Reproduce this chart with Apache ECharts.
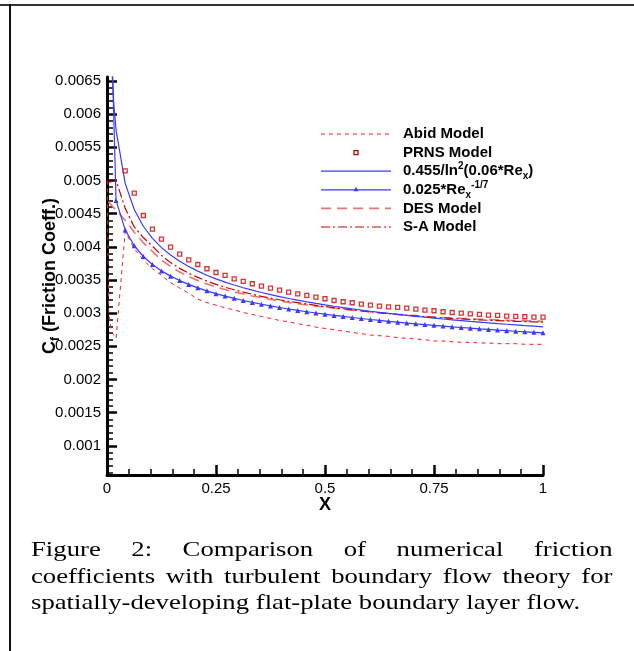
<!DOCTYPE html>
<html lang="en">
<head>
<meta charset="UTF-8">
<title>Friction coefficient comparison</title>
<script src="https://cdn.jsdelivr.net/npm/echarts@6/dist/echarts.min.js"></script>
<style>
  body { margin: 0; background: #fff; }
  #page { position: relative; width: 634px; height: 651px; overflow: hidden; background: #fff; }
  #chart { position: absolute; left: 0; top: 0; width: 634px; height: 651px; }
  .rule-top { position: absolute; left: 0; top: 4px; width: 634px; height: 2px; background: #333; }
  .rule-left { position: absolute; left: 9px; top: 4px; width: 2px; height: 647px; background: #111; }
  #caption {
    position: absolute; left: 31px; top: 536px; width: 479px;
    font-family: 'Liberation Serif', 'Times New Roman', serif;
    font-size: 22px; line-height: 26.5px; text-align: justify; color: #000;
    transform: scaleX(1.214); transform-origin: 0 0;
  }
</style>
</head>
<body>
<div id="page">
  <div id="chart"></div>
  <div class="rule-top"></div>
  <div class="rule-left"></div>
  <div id="caption">Figure 2: Comparison of numerical friction coefficients with turbulent boundary flow theory for spatially-developing flat-plate boundary layer flow.</div>
</div>
<script>
    // x stations (same for every data set)
    const xGrid = [0.0208, 0.0417, 0.0625, 0.0833, 0.1042, 0.125, 0.1458, 0.1667, 0.1875, 0.2083,
        0.2292, 0.25, 0.2708, 0.2917, 0.3125, 0.3333, 0.3542, 0.375, 0.3958, 0.4167,
        0.4375, 0.4583, 0.4792, 0.5, 0.5208, 0.5417, 0.5625, 0.5833, 0.6042, 0.625,
        0.6458, 0.6667, 0.6875, 0.7083, 0.7292, 0.75, 0.7708, 0.7917, 0.8125, 0.8333,
        0.8542, 0.875, 0.8958, 0.9167, 0.9375, 0.9583, 0.9792, 1.0];

    // Abid model (with the dip near the leading edge)
    const abidLeadX = [0.0005, 0.004, 0.01];
    const abidLeadY = [0.00500, 0.00300, 0.00272];
    const abidCf = [0.00262, 0.00423, 0.00397, 0.00380, 0.00367, 0.00357, 0.00346, 0.00338, 0.00330, 0.00321,
        0.00316, 0.00312, 0.00308, 0.00305, 0.00301, 0.00298, 0.00295, 0.00292, 0.00289, 0.00287,
        0.00284, 0.00282, 0.00279, 0.00277, 0.00275, 0.00273, 0.00271, 0.00269, 0.00267, 0.00266,
        0.00265, 0.00263, 0.00262, 0.00261, 0.00260, 0.00258, 0.00258, 0.00257, 0.00256, 0.00256,
        0.00255, 0.00255, 0.00254, 0.00254, 0.00254, 0.00253, 0.00253, 0.00253];

    // PRNS model, starts at the 2nd station
    const prnsCf = [0.005145, 0.004809, 0.004472, 0.004267, 0.004116, 0.003995, 0.003890, 0.003804, 0.003733,
        0.003669, 0.003613, 0.003568, 0.003518, 0.003478, 0.003443, 0.003408, 0.003378, 0.003348, 0.003318,
        0.003292, 0.003267, 0.003242, 0.003217, 0.003191, 0.003172, 0.003157, 0.003137, 0.003122, 0.003106,
        0.003095, 0.003086, 0.003077, 0.003062, 0.003047, 0.003036, 0.003021, 0.003010, 0.003000, 0.002990,
        0.002980, 0.002970, 0.002965, 0.002956, 0.002950, 0.002946, 0.002940, 0.002940];

    // 0.455/ln^2(0.06 Re_x)
    const lnLeadX = [0.0104, 0.0156];
    const lnLeadY = [0.00677, 0.00615];
    const lnCf = [0.005759, 0.004956, 0.004562, 0.004310, 0.004128, 0.003988, 0.003876, 0.003782, 0.003702, 0.003633,
        0.003572, 0.003517, 0.003468, 0.003424, 0.003383, 0.003346, 0.003311, 0.003279, 0.003250, 0.003221,
        0.003195, 0.003170, 0.003147, 0.003125, 0.003104, 0.003084, 0.003065, 0.003047, 0.003029, 0.003012,
        0.002996, 0.002981, 0.002966, 0.002952, 0.002938, 0.002925, 0.002912, 0.002900, 0.002888, 0.002876,
        0.002865, 0.002854, 0.002843, 0.002833, 0.002823, 0.002813, 0.002804, 0.002794];

    // 0.025 Re_x^(-1/7)
    const powLeadX = [0.0104];
    const powLeadY = [0.00720];
    const powCf = [0.004699, 0.004255, 0.004016, 0.003854, 0.003733, 0.003637, 0.003558, 0.003491, 0.003433, 0.003381,
        0.003336, 0.003294, 0.003257, 0.003223, 0.003191, 0.003162, 0.003134, 0.003109, 0.003085, 0.003063,
        0.003041, 0.003021, 0.003002, 0.002984, 0.002966, 0.002950, 0.002934, 0.002919, 0.002904, 0.002890,
        0.002877, 0.002864, 0.002851, 0.002839, 0.002827, 0.002816, 0.002805, 0.002794, 0.002784, 0.002774,
        0.002764, 0.002755, 0.002745, 0.002736, 0.002727, 0.002719, 0.002711, 0.002703];

    // DES model
    const desLeadX = [0.003];
    const desLeadY = [0.00468];
    const desCf = [0.00455, 0.00440, 0.00422, 0.00406, 0.00393, 0.00380, 0.003702, 0.003619, 0.003549, 0.003491,
        0.003440, 0.003394, 0.003355, 0.003320, 0.003289, 0.003259, 0.003232, 0.003207, 0.003184, 0.003161,
        0.003142, 0.003123, 0.003106, 0.003090, 0.003075, 0.003060, 0.003045, 0.003032, 0.003019, 0.003005,
        0.002994, 0.002982, 0.002971, 0.002962, 0.002951, 0.002943, 0.002935, 0.002928, 0.002921, 0.002915,
        0.002909, 0.002904, 0.002899, 0.002894, 0.002889, 0.002886, 0.002882, 0.002876];

    // S-A model
    const saLeadX = [0.003];
    const saLeadY = [0.00497];
    const saCf = [0.00500, 0.00458, 0.00430, 0.00414, 0.00401, 0.00387, 0.003762, 0.003675, 0.003601, 0.003539,
        0.003484, 0.003434, 0.003391, 0.003352, 0.003317, 0.003285, 0.003254, 0.003227, 0.003202, 0.003179,
        0.003158, 0.003137, 0.003118, 0.003100, 0.003083, 0.003066, 0.003049, 0.003034, 0.003019, 0.003005,
        0.002992, 0.002980, 0.002969, 0.002958, 0.002947, 0.002937, 0.002929, 0.002920, 0.002913, 0.002905,
        0.002899, 0.002892, 0.002887, 0.002882, 0.002877, 0.002872, 0.002868, 0.002864];

    // axes
    const yMin = 0.00056, yMax = 0.00656;
    const yMajor = [0.001, 0.0015, 0.002, 0.0025, 0.003, 0.0035, 0.004, 0.0045, 0.005, 0.0055, 0.006, 0.0065];
    const xTicks = [0, 0.25, 0.5, 0.75, 1];

    const seriesNames = ['Abid Model', 'PRNS Model', '0.455/ln²(0.06*Re_x)', '0.025*Re_x^-1/7', 'DES Model', 'S-A Model'];
    const legendText = [
        '{t|Abid Model}',
        '{t|PRNS Model}',
        '{t|0.455/ln}{sup|2}{t|(0.06*Re}{sub|x}{t|)}',
        '{t|0.025*Re}{sub|x}{sup|-1/7}',
        '{t|DES Model}',
        '{t|S-A Model}'
    ];

    const FONT = '"Liberation Sans", Arial, Helvetica, sans-serif';
    const RED = '#ff1c1c', BLUE = '#3a3aff', PINK = '#e87474', DARKRED = '#cc0000';

    let yMinor = [];
    for (let i = 6; i <= 65; i++) {
        if (i % 5 !== 0) yMinor.push(i / 10000);
    }

    function pairs(xs, ys) {
        return xs.map(function (x, i) { return [x, ys[i]]; });
    }

    let myChart = echarts.init(document.getElementById('chart'), null, {renderer: 'canvas'});

    // legend drawn by hand, Tecplot style
    const LEG_X = 321, LEG_Y = 134, LEG_ROW = 18.6, LEG_LEN = 70;
    const legendLines = [
        {stroke: RED, lineWidth: 1, lineDash: [4, 4]},
        null,
        {stroke: BLUE, lineWidth: 1.2},
        {stroke: BLUE, lineWidth: 1.2},
        {stroke: PINK, lineWidth: 1.6, lineDash: [10, 6]},
        {stroke: DARKRED, lineWidth: 1.2, lineDash: [9, 3, 2, 3]}
    ];
    let legendGraphic = [];
    legendText.forEach(function (txt, i) {
        let yy = LEG_Y + i * LEG_ROW;
        let mid = LEG_X + LEG_LEN / 2;
        if (legendLines[i]) {
            legendGraphic.push({
                type: 'line',
                shape: {x1: LEG_X, y1: yy, x2: LEG_X + LEG_LEN, y2: yy},
                style: legendLines[i]
            });
        }
        if (i === 1) {
            legendGraphic.push({
                type: 'rect',
                shape: {x: mid - 2, y: yy - 2, width: 4, height: 4},
                style: {fill: '#fff', stroke: DARKRED, lineWidth: 1.3}
            });
        }
        if (i === 3) {
            legendGraphic.push({
                type: 'polygon',
                shape: {points: [[mid, yy - 3], [mid - 2.5, yy + 1.5], [mid + 2.5, yy + 1.5]]},
                style: {fill: BLUE}
            });
        }
        legendGraphic.push({
            type: 'text',
            x: LEG_X + 82,
            y: yy,
            style: {
                text: txt,
                fill: '#000',
                verticalAlign: 'middle',
                rich: {
                    t: {fontSize: 15, fontWeight: 'bold', fontFamily: FONT, lineHeight: 20},
                    sup: {fontSize: 10, fontWeight: 'bold', fontFamily: FONT, verticalAlign: 'top', lineHeight: 12},
                    sub: {fontSize: 10, fontWeight: 'bold', fontFamily: FONT, verticalAlign: 'bottom', lineHeight: 12}
                }
            }
        });
    });

    let option = {
        backgroundColor: '#ffffff',
        animation: false,
        grid: {left: 107, right: 91, top: 77, bottom: 176, outerBoundsMode: 'none'},
        xAxis: {
            type: 'value',
            min: 0, max: 1, interval: 0.25,
            name: 'X',
            nameLocation: 'middle',
            nameGap: 21,
            nameMoveOverlap: false,
            nameTextStyle: {fontSize: 18, fontWeight: 'bold', fontFamily: FONT, color: '#000'},
            axisLine: {show: true, onZero: false, lineStyle: {color: '#000', width: 3}},
            axisTick: {show: true, inside: true, length: 10, lineStyle: {color: '#000', width: 2.5}},
            minorTick: {show: true, splitNumber: 5, length: 6, lineStyle: {color: '#000', width: 1.5}},
            axisLabel: {
                margin: 6, fontSize: 15, fontFamily: FONT, color: '#000',
                customValues: xTicks,
                formatter: function (v) { return String(Math.round(v * 100) / 100); }
            },
            splitLine: {show: false},
            minorSplitLine: {show: false}
        },
        yAxis: [{
            type: 'value',
            position: 'left',
            min: yMin, max: yMax,
            name: '{c|C}{s|f}{c| (Friction Coeff.)}',
            nameLocation: 'middle',
            nameRotate: 90,
            nameGap: 45,
            nameMoveOverlap: false,
            nameTextStyle: {
                color: '#000',
                rich: {
                    c: {fontSize: 18, fontWeight: 'bold', fontFamily: FONT, lineHeight: 24},
                    s: {fontSize: 12, fontWeight: 'bold', fontFamily: FONT, verticalAlign: 'bottom', lineHeight: 14}
                }
            },
            axisLine: {show: true, onZero: false, lineStyle: {color: '#000', width: 3}},
            axisTick: {show: true, inside: true, length: 10, customValues: yMajor, lineStyle: {color: '#000', width: 2.5}},
            axisLabel: {
                margin: 6, fontSize: 15, fontFamily: FONT, color: '#000',
                customValues: yMajor,
                formatter: function (v) { return String(Math.round(v * 100000) / 100000); }
            },
            splitLine: {show: false}
        }, {
            type: 'value',
            position: 'left',
            min: yMin, max: yMax,
            axisLine: {show: false},
            axisTick: {show: true, inside: true, length: 6, customValues: yMinor, lineStyle: {color: '#000', width: 1.5}},
            axisLabel: {show: false},
            splitLine: {show: false}
        }],
        graphic: legendGraphic,
        series: [
            {
                name: seriesNames[0], type: 'line', symbol: 'none', z: 3,
                data: pairs(abidLeadX.concat(xGrid), abidLeadY.concat(abidCf)),
                lineStyle: {color: RED, width: 1, type: [4, 4]}
            },
            {
                name: seriesNames[1], type: 'scatter', symbol: 'rect', symbolSize: 4, z: 6,
                data: pairs(xGrid.slice(1), prnsCf),
                itemStyle: {color: '#fff', borderColor: DARKRED, borderWidth: 1.3}
            },
            {
                name: seriesNames[2], type: 'line', symbol: 'none', z: 4,
                data: pairs(lnLeadX.concat(xGrid), lnLeadY.concat(lnCf)),
                lineStyle: {color: BLUE, width: 1.2}
            },
            {
                name: seriesNames[3], type: 'line', symbol: 'triangle', symbolSize: 5, showSymbol: true, z: 4,
                data: pairs(powLeadX.concat(xGrid), powLeadY.concat(powCf)),
                lineStyle: {color: BLUE, width: 1.2},
                itemStyle: {color: BLUE}
            },
            {
                name: seriesNames[4], type: 'line', symbol: 'none', z: 3,
                data: pairs(desLeadX.concat(xGrid), desLeadY.concat(desCf)),
                lineStyle: {color: PINK, width: 1.6, type: [10, 6]}
            },
            {
                name: seriesNames[5], type: 'line', symbol: 'none', z: 3,
                data: pairs(saLeadX.concat(xGrid), saLeadY.concat(saCf)),
                lineStyle: {color: DARKRED, width: 1.2, type: [9, 3, 2, 3]}
            }
        ]
    };
    myChart.setOption(option);
</script>
</body>
</html>
